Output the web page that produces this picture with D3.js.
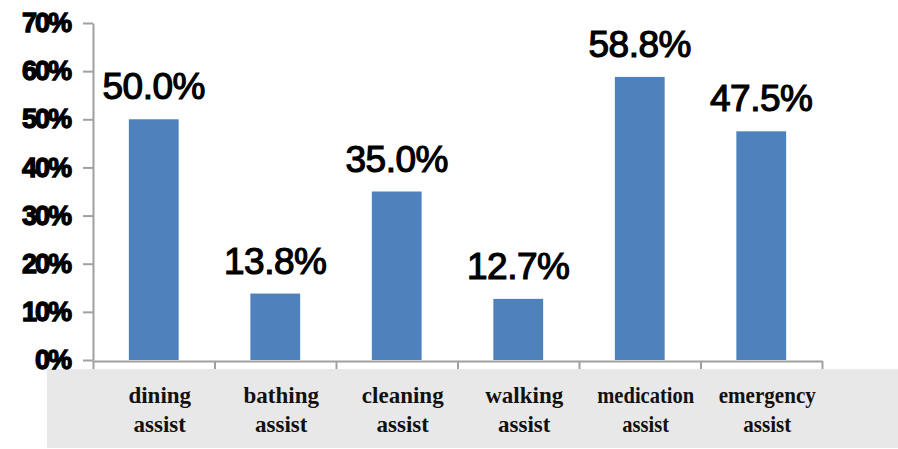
<!DOCTYPE html>
<html>
<head>
<meta charset="utf-8">
<script src="https://cdn.jsdelivr.net/npm/d3@7"></script>
<style>
  html, body { margin: 0; padding: 0; background: #fff; }
  svg { display: block; }
</style>
</head>
<body>
<svg id="chart" width="898" height="449"></svg>
<script>
const categories = [["dining", "assist"], ["bathing", "assist"], ["cleaning", "assist"], ["walking", "assist"], ["medication", "assist"], ["emergency", "assist"]];
const values = [0.500, 0.138, 0.350, 0.127, 0.588, 0.475];
const valueLabels = ["50.0%", "13.8%", "35.0%", "12.7%", "58.8%", "47.5%"];
const yTicks = [0, 0.1, 0.2, 0.3, 0.4, 0.5, 0.6, 0.7];

(function () {
const svg = d3.select("#chart");
const mLeft = 93, mRight = 822, mTop = 23, mBottom = 360;

const keys = categories.map(c => c.join(" "));
const x = d3.scaleBand().domain(keys).range([mLeft, mRight]).paddingInner(0.59).paddingOuter(0.295);
const y = d3.scaleLinear().domain([0, 0.7]).range([mBottom, mTop]);
const edges = d3.scaleLinear().domain([0, keys.length]).range([mLeft, mRight]);

// grey label panel
svg.append("rect").attr("x", 47).attr("y", 369).attr("width", 851).attr("height", 79).attr("fill", "#e8e8e8");

// bars
svg.append("g").selectAll("rect").data(values).join("rect")
  .attr("x", (d, i) => x(keys[i]))
  .attr("width", x.bandwidth())
  .attr("y", d => y(d))
  .attr("height", d => y(0) - y(d))
  .attr("fill", "#4f81bd");

// y axis
const yAxis = svg.append("g").attr("transform", `translate(${mLeft},0)`)
  .call(d3.axisLeft(y).tickValues(yTicks).tickFormat(d3.format(".0%")).tickSize(10).tickSizeOuter(0).tickPadding(13));
yAxis.select(".domain").attr("stroke", "#a0a0a0").attr("stroke-width", 2);
yAxis.selectAll(".tick line").attr("stroke", "#a0a0a0").attr("stroke-width", 2);
yAxis.selectAll(".tick text")
  .attr("font-family", "'Liberation Sans', Arial, sans-serif")
  .attr("font-size", 27).attr("font-weight", "bold")
  .attr("letter-spacing", -2)
  .attr("fill", "#000").attr("stroke", "#000").attr("stroke-width", 1.3);

// x axis with ticks at category boundaries
const xAxis = svg.append("g").attr("transform", `translate(0,${mBottom + 1})`)
  .call(d3.axisBottom(edges).tickValues(d3.range(0, keys.length + 1)).tickFormat("").tickSize(8).tickSizeOuter(0));
xAxis.select(".domain").attr("stroke", "#a0a0a0").attr("stroke-width", 2);
xAxis.selectAll(".tick line").attr("stroke", "#a0a0a0").attr("stroke-width", 2);

// value labels
svg.append("g").selectAll("text").data(values).join("text")
  .attr("x", (d, i) => x(keys[i]) + x.bandwidth() / 2)
  .attr("y", d => y(d) - 20)
  .attr("text-anchor", "middle")
  .attr("font-family", "'Liberation Sans', Arial, sans-serif")
  .attr("font-size", 37)
  .attr("letter-spacing", -0.5)
  .attr("fill", "#000").attr("stroke", "#000").attr("stroke-width", 1.2)
  .text((d, i) => valueLabels[i]);

// category labels
const maxW = 97;
const lab = svg.append("g")
  .attr("font-family", "'Liberation Serif', 'Times New Roman', serif")
  .attr("font-size", 23).attr("font-weight", "bold").attr("fill", "#111");
categories.forEach((lines, i) => {
  const cx = x(keys[i]) + x.bandwidth() / 2 + 6;
  const texts = lines.map((s, j) => lab.append("text")
    .attr("x", cx).attr("y", 403 + j * 29)
    .attr("text-anchor", "middle").text(s));
  const widths = texts.map(t => t.node().getComputedTextLength());
  const mw = Math.max(...widths);
  if (mw > maxW) {
    const f = maxW / mw;
    texts.forEach((t, j) => t.attr("textLength", widths[j] * f).attr("lengthAdjust", "spacingAndGlyphs"));
  }
});
})();
</script>
</body>
</html>
